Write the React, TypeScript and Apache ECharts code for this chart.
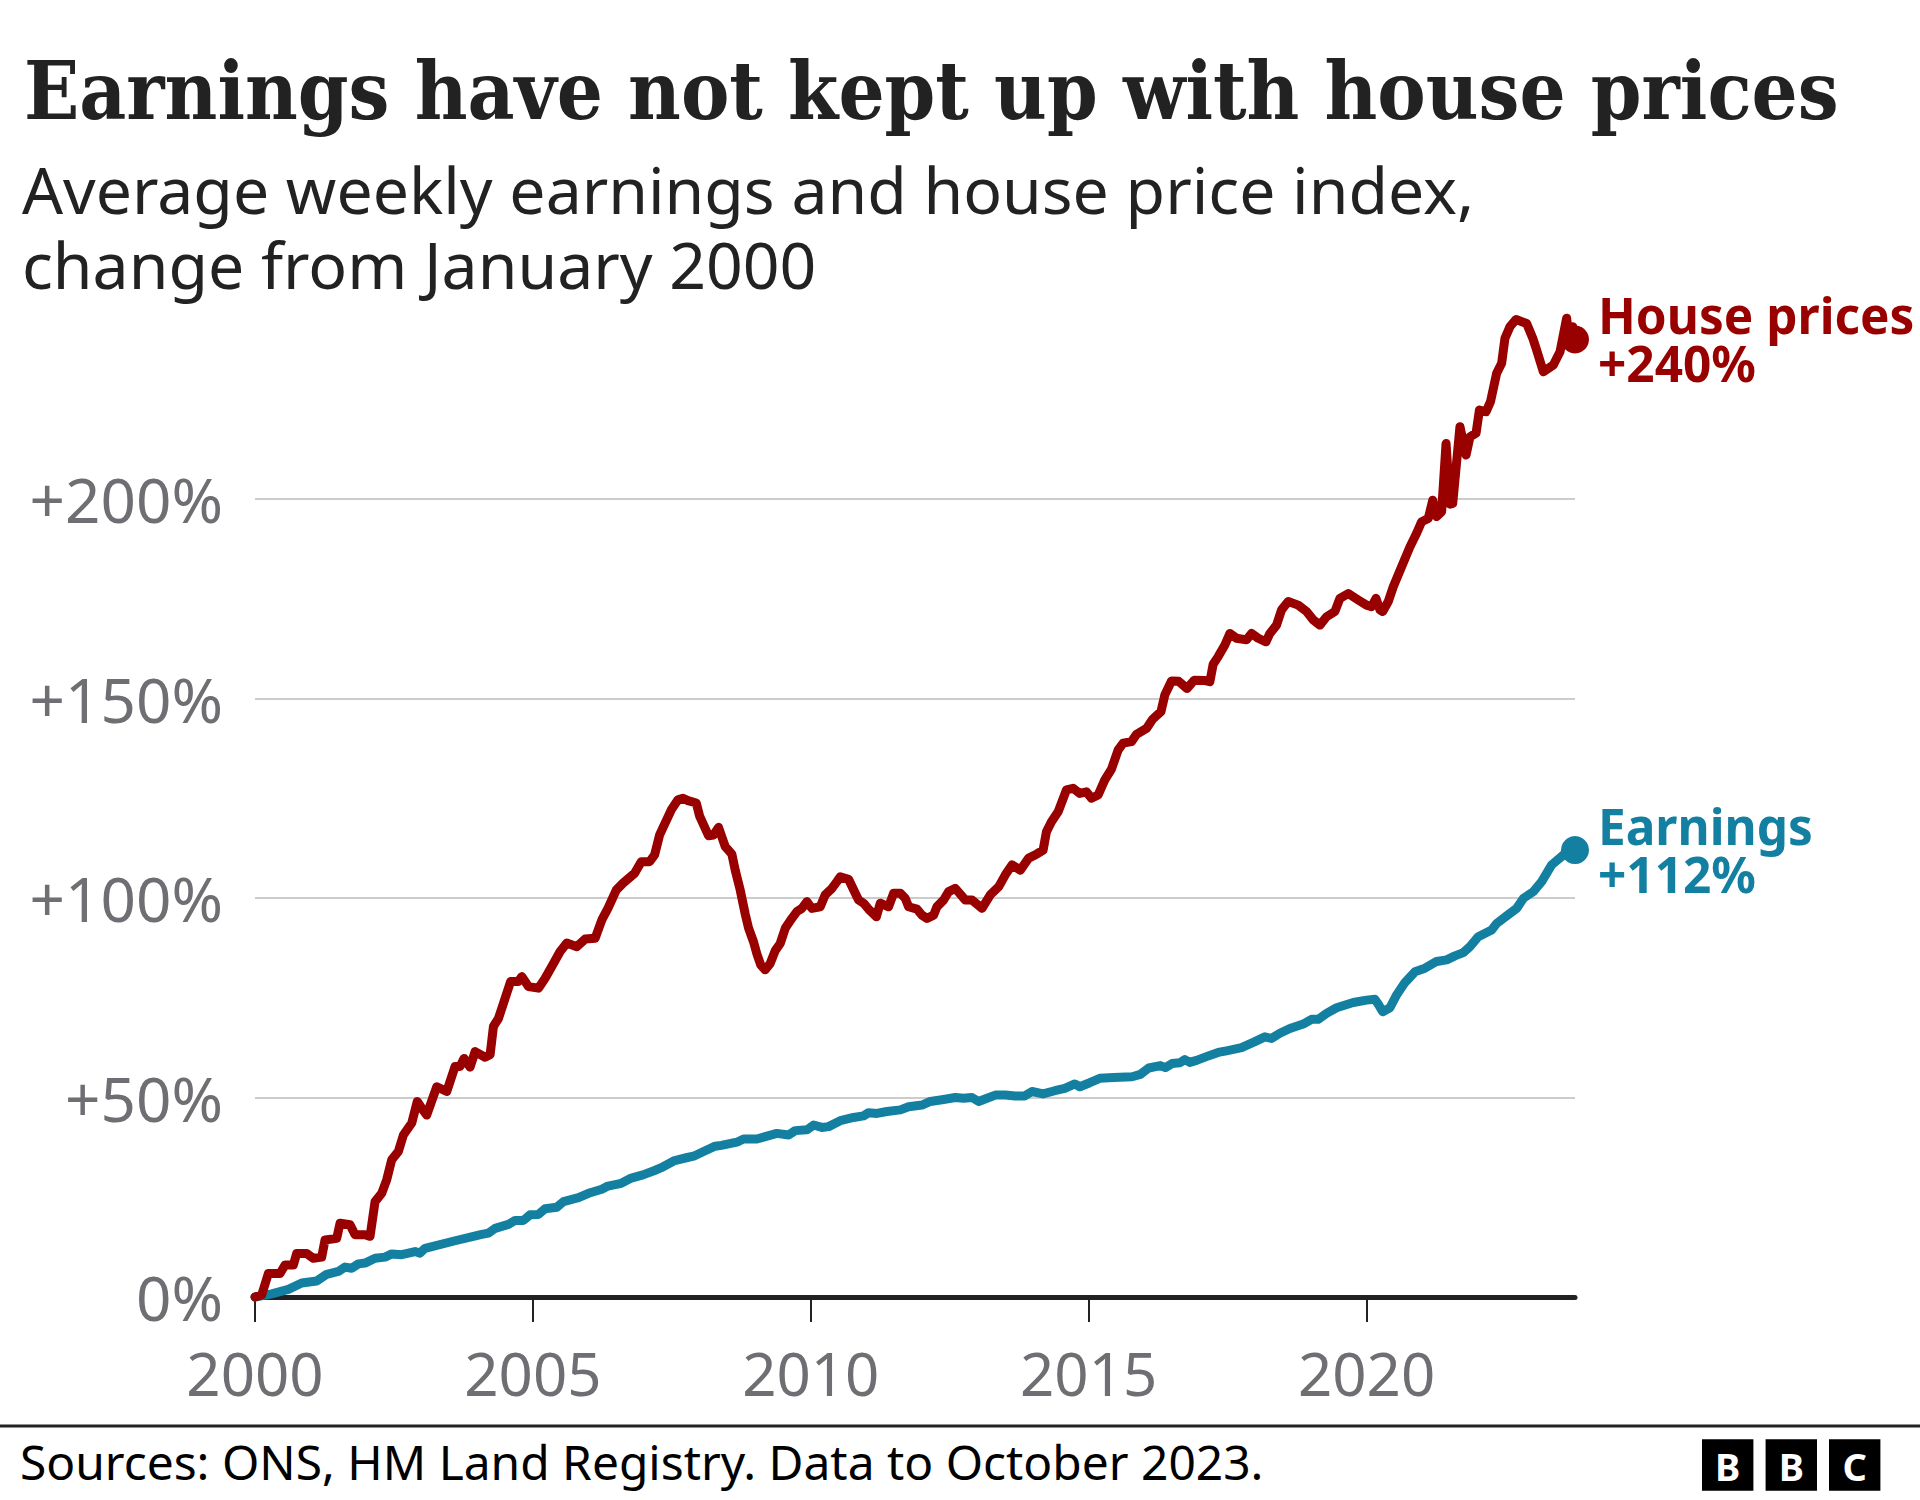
import React, { useEffect, useRef } from 'react';
import * as echarts from 'echarts';

// House price index, % change from January 2000
const houseYears = [
  2000.0, 2000.12, 2000.24, 2000.45, 2000.54, 2000.69, 2000.75, 2000.93, 2001.05, 2001.2,
  2001.26, 2001.47, 2001.53, 2001.71, 2001.8, 2001.98, 2002.07, 2002.16, 2002.28, 2002.37,
  2002.46, 2002.58, 2002.67, 2002.82, 2002.92, 2003.0, 2003.09, 2003.27, 2003.45, 2003.6,
  2003.69, 2003.76, 2003.87, 2003.96, 2004.14, 2004.23, 2004.29, 2004.38, 2004.47, 2004.6,
  2004.74, 2004.8, 2004.92, 2005.1, 2005.22, 2005.37, 2005.49, 2005.61, 2005.79, 2005.94,
  2006.12, 2006.24, 2006.35, 2006.5, 2006.62, 2006.83, 2006.95, 2007.1, 2007.19, 2007.28,
  2007.49, 2007.61, 2007.7, 2007.79, 2007.94, 2008.0, 2008.16, 2008.25, 2008.34, 2008.46,
  2008.58, 2008.64, 2008.73, 2008.82, 2008.88, 2008.97, 2009.03, 2009.1, 2009.18, 2009.27,
  2009.36, 2009.45, 2009.54, 2009.66, 2009.75, 2009.84, 2009.93, 2010.02, 2010.17, 2010.26,
  2010.38, 2010.47, 2010.53, 2010.68, 2010.8, 2010.86, 2010.95, 2011.04, 2011.18, 2011.25,
  2011.4, 2011.49, 2011.61, 2011.7, 2011.76, 2011.91, 2012.0, 2012.09, 2012.21, 2012.27,
  2012.39, 2012.48, 2012.6, 2012.78, 2012.9, 2013.08, 2013.23, 2013.38, 2013.5, 2013.62,
  2013.77, 2013.92, 2014.04, 2014.18, 2014.24, 2014.33, 2014.45, 2014.6, 2014.72, 2014.84,
  2014.96, 2015.05, 2015.17, 2015.29, 2015.41, 2015.53, 2015.62, 2015.77, 2015.86, 2016.04,
  2016.15, 2016.3, 2016.37, 2016.49, 2016.62, 2016.77, 2016.9, 2017.1, 2017.18, 2017.24,
  2017.33, 2017.45, 2017.54, 2017.66, 2017.84, 2017.93, 2018.05, 2018.19, 2018.26, 2018.38,
  2018.47, 2018.59, 2018.77, 2018.92, 2019.04, 2019.16, 2019.28, 2019.43, 2019.52, 2019.67,
  2019.85, 2020.0, 2020.09, 2020.17, 2020.24, 2020.29, 2020.39, 2020.48, 2020.63, 2020.78,
  2020.9, 2020.99, 2021.11, 2021.19, 2021.26, 2021.35, 2021.43, 2021.5, 2021.55, 2021.68,
  2021.79, 2021.86, 2021.97, 2022.03, 2022.15, 2022.23, 2022.34, 2022.43, 2022.49, 2022.58,
  2022.69, 2022.88, 2022.99, 2023.06, 2023.18, 2023.36, 2023.48, 2023.6, 2023.66, 2023.71,
  2023.75,
];
const houseValues = [
  0, 0.5, 5.9, 5.9, 8.0, 8.0, 10.9, 10.9, 9.7, 10.0,
  14.3, 14.7, 18.5, 18.1, 15.6, 15.6, 15.2, 23.9, 26.0, 29.4,
  34.4, 36.5, 40.6, 43.6, 49.0, 47.3, 45.6, 52.7, 51.5, 57.8,
  57.8, 59.8, 57.6, 61.5, 60.1, 60.7, 67.8, 69.8, 73.6, 79.1,
  79.1, 80.3, 77.8, 77.4, 79.9, 83.6, 86.6, 88.7, 87.8, 89.7,
  89.9, 94.5, 97.4, 102.0, 103.7, 106.2, 109.1, 109.1, 110.8, 115.8,
  122.1, 124.6, 125.0, 124.4, 123.8, 120.5, 115.6, 115.8, 117.7, 112.9,
  111.0, 107.0, 102.0, 96.0, 92.5, 89.0, 86.0, 83.2, 82.0, 83.6,
  86.8, 88.6, 92.4, 94.9, 96.6, 97.4, 99.1, 97.4, 97.8, 100.8,
  102.4, 104.1, 105.3, 104.7, 101.2, 99.5, 98.7, 97.2, 95.3, 98.7,
  97.8, 101.2, 101.2, 99.9, 97.8, 97.2, 95.7, 94.9, 95.7, 97.8,
  99.5, 101.6, 102.4, 99.5, 99.5, 97.4, 100.8, 102.8, 105.8, 108.3,
  107.0, 110.0, 110.8, 112.0, 116.6, 119.1, 121.6, 127.1, 127.5, 126.2,
  126.6, 125.0, 125.8, 129.6, 132.3, 137.1, 138.8, 139.2, 141.0, 142.5,
  144.8, 146.7, 150.9, 154.4, 154.3, 152.5, 154.6, 154.5, 154.2, 158.6,
  160.5, 163.4, 166.3, 165.1, 164.7, 166.3, 165.1, 164.2, 166.3, 168.4,
  172.2, 174.3, 173.4, 171.8, 169.7, 168.4, 170.5, 171.8, 175.1, 176.3,
  174.7, 173.4, 173.0, 175.1, 172.2, 171.8, 174.3, 178.0, 183.0, 188.0,
  191.4, 194.3, 195.1, 199.7, 195.6, 196.8, 213.9, 198.7, 198.9, 218.1,
  211.0, 215.6, 216.5, 222.3, 221.9, 224.4, 231.5, 234.0, 240.3, 243.2,
  245.0, 244.0, 240.3, 237.3, 231.9, 233.6, 236.9, 245.3, 238.2, 243.2,
  240.0,
];

// Average weekly earnings, % change from January 2000
const earnYears = [
  2000.0, 2000.3, 2000.6, 2000.84, 2001.11, 2001.29, 2001.5, 2001.62, 2001.74, 2001.86,
  2001.98, 2002.16, 2002.34, 2002.46, 2002.64, 2002.88, 2002.97, 2003.06, 2003.6, 2004.08,
  2004.2, 2004.32, 2004.56, 2004.68, 2004.83, 2004.95, 2005.1, 2005.22, 2005.43, 2005.55,
  2005.82, 2006.0, 2006.24, 2006.35, 2006.59, 2006.77, 2006.98, 2007.19, 2007.31, 2007.55,
  2007.76, 2007.91, 2008.09, 2008.28, 2008.39, 2008.67, 2008.79, 2009.03, 2009.18, 2009.39,
  2009.6, 2009.72, 2009.93, 2010.05, 2010.2, 2010.32, 2010.53, 2010.77, 2010.95, 2011.04,
  2011.19, 2011.37, 2011.61, 2011.76, 2012.0, 2012.15, 2012.39, 2012.6, 2012.75, 2012.9,
  2013.02, 2013.17, 2013.32, 2013.5, 2013.68, 2013.85, 2013.98, 2014.18, 2014.39, 2014.57,
  2014.75, 2014.84, 2015.02, 2015.2, 2015.45, 2015.78, 2015.93, 2016.08, 2016.29, 2016.38,
  2016.5, 2016.64, 2016.73, 2016.82, 2016.94, 2017.13, 2017.33, 2017.48, 2017.75, 2017.99,
  2018.17, 2018.29, 2018.44, 2018.62, 2018.86, 2019.01, 2019.13, 2019.28, 2019.46, 2019.76,
  2020.0, 2020.15, 2020.21, 2020.29, 2020.42, 2020.54, 2020.69, 2020.87, 2021.05, 2021.26,
  2021.44, 2021.59, 2021.74, 2021.86, 2022.01, 2022.25, 2022.34, 2022.52, 2022.7, 2022.82,
  2023.0, 2023.15, 2023.33, 2023.51, 2023.6, 2023.75,
];
const earnValues = [
  0, 0.8, 1.9, 3.5, 4.0, 5.7, 6.4, 7.5, 7.2, 8.3,
  8.5, 9.7, 10.0, 10.8, 10.6, 11.4, 11.0, 12.2, 14.1, 15.7,
  16.0, 17.2, 18.2, 19.2, 19.2, 20.6, 20.7, 22.1, 22.5, 23.9,
  24.9, 26.0, 27.0, 27.8, 28.5, 29.8, 30.6, 31.7, 32.4, 34.2,
  34.9, 35.4, 36.6, 37.8, 38.0, 38.8, 39.6, 39.6, 40.2, 41.0,
  40.6, 41.7, 41.9, 43.1, 42.5, 42.7, 44.2, 45.0, 45.4, 46.2,
  46.0, 46.5, 46.9, 47.7, 48.1, 49.0, 49.5, 50.0, 49.8, 50.0,
  49.0, 49.8, 50.6, 50.6, 50.4, 50.4, 51.5, 50.9, 51.7, 52.3,
  53.4, 52.7, 53.7, 54.8, 55.0, 55.2, 55.8, 57.4, 58.0, 57.5,
  58.5, 58.7, 59.5, 58.8, 59.3, 60.3, 61.3, 61.7, 62.5, 64.0,
  65.2, 64.8, 66.1, 67.3, 68.4, 69.6, 69.6, 71.1, 72.5, 73.8,
  74.4, 74.6, 73.4, 71.5, 72.5, 75.7, 78.8, 81.5, 82.4, 84.1,
  84.5, 85.5, 86.3, 87.8, 90.3, 92.0, 93.6, 95.5, 97.4, 99.9,
  101.6, 104.1, 108.3, 110.4, 111.6, 112.0,
];

const xTickYears = [2000, 2005, 2010, 2015, 2020];
const xMin = 2000;
const xMax = 2023.75;
const yMin = 0;
const yMax = 200;
const yStep = 50;

const seriesNames = ['House prices', 'Earnings'];
const endLabels = ['+240%', '+112%'];

const titleText = 'Earnings have not kept up with house prices';
const subtitleText = 'Average weekly earnings and house price index,\nchange from January 2000';
const sourceText = 'Sources: ONS, HM Land Registry. Data to October 2023.';
const logoLetters = ['B', 'B', 'C'];

const RED = '#990000';
const BLUE = '#1380a1';
const SANS = "'Noto Sans', 'Open Sans', sans-serif";

function zip(xs: number[], ys: number[]) {
  return xs.map((x, i) => [x, ys[i]]);
}

export default function App() {
  const ref = useRef<HTMLDivElement>(null);

  useEffect(() => {
    document.body.style.margin = '0';
    const chart = echarts.init(ref.current as HTMLDivElement, null, { renderer: 'svg' });

    const houseData = zip(houseYears, houseValues);
    const earnData = zip(earnYears, earnValues);
    const houseLast = houseData[houseData.length - 1];
    const earnLast = earnData[earnData.length - 1];

    const endLabel = (name: string, value: string, color: string) => ({
      show: true,
      position: 'right',
      distance: 9,
      formatter: `{a|${name}}\n{a|${value}}`,
      rich: {
        a: {
          fontFamily: SANS,
          fontWeight: 'bold',
          fontSize: 49.5,
          lineHeight: 48,
          color,
        },
      },
    });

    const logoX = [1702, 1765.6, 1829];
    const logoGraphics: any[] = [];
    logoLetters.forEach((l, i) => {
      logoGraphics.push({
        type: 'rect',
        shape: { x: logoX[i], y: 1439.3, width: 51.4, height: 51.4 },
        style: { fill: '#000' },
      });
      logoGraphics.push({
        type: 'text',
        x: logoX[i] + 25.7,
        y: 1466,
        style: {
          text: l,
          fill: '#fff',
          fontFamily: SANS,
          fontWeight: 'bold',
          fontSize: 38,
          align: 'center',
          verticalAlign: 'middle',
        },
      });
    });

    const option: any = {
      animation: false,
      backgroundColor: '#ffffff',
      grid: { left: 255, right: 345, top: 499, bottom: 203, containLabel: false },
      xAxis: {
        type: 'value',
        min: xMin,
        max: xMax,
        interval: 5,
        axisLine: { show: true, onZero: false, lineStyle: { color: '#222222', width: 5 } },
        axisTick: {
          show: true,
          length: 25,
          customValues: xTickYears,
          lineStyle: { color: '#222222', width: 2 },
        },
        axisLabel: {
          customValues: xTickYears,
          margin: 46,
          fontSize: 60,
          fontFamily: SANS,
          color: '#6e6e73',
          formatter: (v: number) => String(v),
        },
        splitLine: { show: false },
      },
      yAxis: {
        type: 'value',
        min: yMin,
        max: yMax,
        interval: yStep,
        axisLine: { show: false },
        axisTick: { show: false },
        axisLabel: {
          margin: 32,
          fontSize: 62,
          fontFamily: SANS,
          color: '#6e6e73',
          formatter: (v: number) => (v === 0 ? '0%' : `+${v}%`),
        },
        splitLine: { show: true, lineStyle: { color: '#cccccc', width: 2 } },
      },
      series: [
        {
          name: seriesNames[1],
          type: 'line',
          data: earnData,
          clip: false,
          showSymbol: false,
          symbol: 'none',
          lineStyle: { color: BLUE, width: 9, cap: 'round', join: 'round' },
          z: 3,
        },
        {
          name: seriesNames[0],
          type: 'line',
          data: houseData,
          clip: false,
          showSymbol: false,
          symbol: 'none',
          lineStyle: { color: RED, width: 9, cap: 'round', join: 'round' },
          z: 4,
        },
        {
          type: 'scatter',
          data: [earnLast],
          clip: false,
          symbolSize: 28,
          itemStyle: { color: BLUE, opacity: 1 },
          label: endLabel(seriesNames[1], endLabels[1], BLUE),
          emphasis: { disabled: true },
          z: 5,
        },
        {
          type: 'scatter',
          data: [houseLast],
          clip: false,
          symbolSize: 28,
          itemStyle: { color: RED, opacity: 1 },
          label: endLabel(seriesNames[0], endLabels[0], RED),
          emphasis: { disabled: true },
          z: 5,
        },
      ],
      graphic: [
        {
          type: 'text',
          x: 24,
          y: 90,
          style: {
            text: titleText,
            fill: '#222222',
            fontFamily: "'DejaVu Serif Condensed', 'DejaVu Serif', serif",
            fontWeight: 'bold',
            fontSize: 80.7,
            verticalAlign: 'middle',
          },
        },
        {
          type: 'text',
          x: 22,
          y: 151,
          style: {
            text: subtitleText,
            fill: '#222222',
            fontFamily: SANS,
            fontSize: 64.3,
            lineHeight: 75,
            verticalAlign: 'top',
          },
        },
        {
          type: 'rect',
          shape: { x: 0, y: 1424.5, width: 1920, height: 3 },
          style: { fill: '#222222' },
        },
        {
          type: 'text',
          x: 20,
          y: 1461,
          style: {
            text: sourceText,
            fill: '#000000',
            fontFamily: SANS,
            fontSize: 47.9,
            verticalAlign: 'middle',
          },
        },
        ...logoGraphics,
      ],
    };

    chart.setOption(option);
    return () => chart.dispose();
  }, []);

  return <div ref={ref} style={{ width: 1920, height: 1500 }} />;
}
